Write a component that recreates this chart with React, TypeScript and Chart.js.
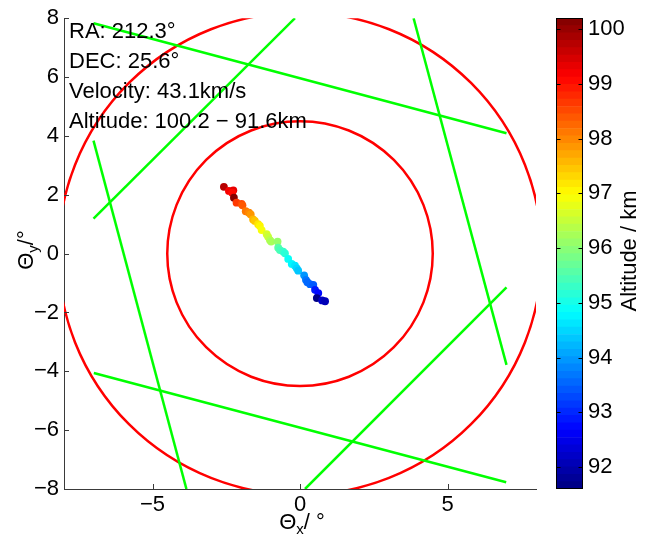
import React, { useEffect, useRef } from 'react';
import { Chart, registerables } from 'chart.js';
Chart.register(...registerables);

// ---- data ----
const axisMin = -8;
const axisMax = 8;
const xTicks = [-5, 0, 5];
const yTicks = [-8, -6, -4, -2, 0, 2, 4, 6, 8];
const cbMin = 91.6;
const cbMax = 100.2;
const cbTicks = [92, 93, 94, 95, 96, 97, 98, 99, 100];
const circleRadii = [4.5, 8.2];
const segX1 = [-7.0, -7.0, -7.0, -6.99, 0.17, 3.85];
const segY1 = [7.83, 1.19, 3.84, -4.06, -8.0, 8.0];
const segX2 = [7.0, -0.17, -3.85, 6.99, 7.0, 7.0];
const segY2 = [4.09, 8.0, -8.0, -7.77, -1.15, -3.78];
const meteorX = [-2.58, -2.41, -2.26, -2.3, -2.24, -2.15, -1.98, -1.95, -1.84, -1.73, -1.67, -1.59, -1.53, -1.42, -1.36, -1.3, -1.13, -1.08, -1.02, -0.98, -0.76, -0.74, -0.68, -0.57, -0.51, -0.4, -0.28, -0.17, -0.11, -0.06, 0.14, 0.2, 0.25, 0.34, 0.45, 0.51, 0.62, 0.57, 0.75, 0.85];
const meteorY = [2.27, 2.13, 2.15, 2.07, 1.9, 1.73, 1.69, 1.64, 1.44, 1.39, 1.33, 1.16, 1.11, 1.0, 0.94, 0.8, 0.66, 0.57, 0.46, 0.41, 0.41, 0.2, 0.12, 0.07, 0.01, -0.18, -0.35, -0.41, -0.5, -0.58, -0.74, -0.89, -0.97, -1.04, -1.06, -1.23, -1.34, -1.51, -1.59, -1.62];
const meteorAlt = [99.7, 99.2, 99.3, 99.1, 100.2, 98.6, 98.5, 98.4, 98.1, 98.0, 97.9, 97.6, 97.5, 97.2, 97.1, 96.9, 96.6, 96.5, 96.4, 96.3, 96.1, 95.5, 95.4, 95.3, 95.2, 94.9, 94.7, 94.6, 94.5, 94.4, 93.9, 93.7, 93.6, 93.5, 93.4, 92.9, 92.7, 91.6, 92.2, 92.1];
const infoLines = ['RA: 212.3°', 'DEC: 25.6°', 'Velocity: 43.1km/s', 'Altitude: 100.2 − 91.6km'];
const cbTitle = 'Altitude / km';
const nBands = 64;

// ---- styles ----
const FONT = '"Liberation Sans", Arial, Helvetica, sans-serif';
const FS = 22;
const AXIS_COLOR = '#3a3a3a';
const LW = 2.5;

const clamp = (v: number) => Math.max(0, Math.min(1, v));
function jet(t: number) {
  const r = clamp(1.5 - Math.abs(4 * t - 3));
  const g = clamp(1.5 - Math.abs(4 * t - 2));
  const b = clamp(1.5 - Math.abs(4 * t - 1));
  return `rgb(${Math.round(r * 255)},${Math.round(g * 255)},${Math.round(b * 255)})`;
}
function bandIndex(v: number) {
  return Math.max(0, Math.min(nBands - 1, Math.floor(((v - cbMin) / (cbMax - cbMin)) * nBands)));
}
function bandColor(i: number) {
  return jet((i + 0.5) / nBands);
}
const fmt = (v: number) => String(v).replace('-', '\u2212');

const mainPlugin = {
  id: 'mainDecor',
  beforeDatasetsDraw(chart: any) {
    const { ctx, chartArea } = chart;
    const xs = chart.scales.x;
    const ys = chart.scales.y;
    const cx = xs.getPixelForValue(0);
    const cy = ys.getPixelForValue(0);
    ctx.save();
    ctx.beginPath();
    ctx.rect(chartArea.left, chartArea.top, chartArea.right - chartArea.left, chartArea.bottom - chartArea.top);
    ctx.clip();
    ctx.strokeStyle = '#ff0000';
    ctx.lineWidth = LW;
    for (const r of circleRadii) {
      const rx = xs.getPixelForValue(r) - cx;
      const ry = cy - ys.getPixelForValue(r);
      ctx.beginPath();
      ctx.ellipse(cx, cy, rx, ry, 0, 0, Math.PI * 2);
      ctx.stroke();
    }
    ctx.restore();
  },
  afterDraw(chart: any) {
    const { ctx, chartArea } = chart;
    const xs = chart.scales.x;
    const ys = chart.scales.y;
    ctx.save();
    // inward ticks
    ctx.strokeStyle = AXIS_COLOR;
    ctx.lineWidth = 1;
    ctx.beginPath();
    for (const v of xTicks) {
      const px = Math.round(xs.getPixelForValue(v)) + 0.5;
      ctx.moveTo(px, chartArea.bottom);
      ctx.lineTo(px, chartArea.bottom - 5);
    }
    for (const v of yTicks) {
      const py = Math.round(ys.getPixelForValue(v)) + 0.5;
      ctx.moveTo(chartArea.left, py);
      ctx.lineTo(chartArea.left + 5, py);
    }
    ctx.stroke();
    // annotation
    ctx.fillStyle = '#000';
    ctx.font = `${FS}px ${FONT}`;
    ctx.textBaseline = 'alphabetic';
    ctx.textAlign = 'left';
    infoLines.forEach((s, i) => ctx.fillText(s, 69, 38 + i * 30));
    const big = `${FS}px ${FONT}`;
    const small = `15px ${FONT}`;
    const drawTitle = (sub: string, tail: string) => {
      ctx.font = big;
      const w1 = ctx.measureText('\u0398').width;
      const w3 = ctx.measureText(tail).width;
      ctx.font = small;
      const w2 = ctx.measureText(sub).width;
      const total = w1 + w2 + w3;
      let x = -total / 2;
      ctx.font = big;
      ctx.fillText('\u0398', x, 0);
      x += w1;
      ctx.font = small;
      ctx.fillText(sub, x, 5);
      x += w2;
      ctx.font = big;
      ctx.fillText(tail, x, 0);
    };
    ctx.save();
    ctx.translate(302, 529);
    drawTitle('x', '/ °');
    ctx.restore();
    ctx.save();
    ctx.translate(33, 250);
    ctx.rotate(-Math.PI / 2);
    drawTitle('y', '/°');
    ctx.restore();
    ctx.restore();
  },
};

const cbPlugin = {
  id: 'cbDecor',
  afterDraw(chart: any) {
    const { ctx, chartArea } = chart;
    const ys = chart.scales.y;
    ctx.save();
    ctx.strokeStyle = '#000';
    ctx.lineWidth = 1;
    const l = Math.round(chartArea.left) + 0.5;
    const r = Math.round(chartArea.right) - 0.5;
    const t = Math.round(chartArea.top) + 0.5;
    const b = Math.round(chartArea.bottom) - 0.5;
    ctx.strokeRect(l, t, r - l, b - t);
    ctx.beginPath();
    for (const v of cbTicks) {
      const py = Math.round(ys.getPixelForValue(v)) + 0.5;
      ctx.moveTo(l, py);
      ctx.lineTo(l + 4, py);
      ctx.moveTo(r, py);
      ctx.lineTo(r - 4, py);
    }
    ctx.stroke();
    ctx.fillStyle = '#000';
    ctx.font = `${FS}px ${FONT}`;
    ctx.textAlign = 'center';
    ctx.textBaseline = 'middle';
    ctx.translate(90, 251);
    ctx.rotate(-Math.PI / 2);
    ctx.fillText(cbTitle, 0, 0);
    ctx.restore();
  },
};

export default function App() {
  const mainRef = useRef<HTMLCanvasElement | null>(null);
  const cbRef = useRef<HTMLCanvasElement | null>(null);

  useEffect(() => {
    Chart.defaults.color = '#000';
    Chart.defaults.font.family = FONT;
    Chart.defaults.font.size = FS;

    const segDatasets = segX1.map((_, i) => ({
      type: 'line' as const,
      data: [
        { x: segX1[i], y: segY1[i] },
        { x: segX2[i], y: segY2[i] },
      ],
      borderColor: '#00ff00',
      borderWidth: LW,
      pointRadius: 0,
      showLine: true,
      fill: false,
    }));
    const meteorDataset = {
      type: 'scatter' as const,
      data: meteorX.map((x, i) => ({ x, y: meteorY[i] })),
      pointBackgroundColor: meteorAlt.map((a) => bandColor(bandIndex(a))),
      pointBorderWidth: 0,
      pointRadius: 3.9,
      showLine: false,
    };

    const main = new Chart(mainRef.current!, {
      type: 'scatter',
      data: { datasets: [...segDatasets, meteorDataset] as any },
      options: {
        responsive: false,
        animation: false,
        events: [],
        layout: { padding: { left: 0, top: 15, right: 117, bottom: 0 }, autoPadding: false } as any,
        plugins: { legend: { display: false }, tooltip: { enabled: false } },
        scales: {
          x: {
            type: 'linear',
            min: axisMin,
            max: axisMax,
            afterBuildTicks: (s: any) => { s.ticks = xTicks.map((v) => ({ value: v })); },
            afterFit: (s: any) => { s.height = 48; },
            ticks: { padding: 3, font: { size: FS, family: FONT }, color: '#000', callback: (v: any) => fmt(v) },
            grid: { display: true, drawOnChartArea: false, drawTicks: false },
            border: { display: true, color: AXIS_COLOR, width: 1 },
          },
          y: {
            type: 'linear',
            min: axisMin,
            max: axisMax,
            afterBuildTicks: (s: any) => { s.ticks = yTicks.map((v) => ({ value: v })); },
            afterFit: (s: any) => { s.width = 64; },
            ticks: { padding: 5, font: { size: FS, family: FONT }, color: '#000', callback: (v: any) => fmt(v) },
            grid: { display: true, drawOnChartArea: false, drawTicks: false },
            border: { display: true, color: AXIS_COLOR, width: 1 },
          },
        },
      },
      plugins: [mainPlugin],
    });

    const bands = Array.from({ length: nBands }, (_, i) => i);
    const step = (cbMax - cbMin) / nBands;
    const cb = new Chart(cbRef.current!, {
      type: 'bar',
      data: {
        labels: ['cb'],
        datasets: bands.map((i) => ({
          data: [[cbMin + i * step, cbMin + (i + 1) * step]] as any,
          backgroundColor: bandColor(i),
          borderWidth: 0,
          grouped: false,
          barPercentage: 1,
          categoryPercentage: 1,
        })) as any,
      },
      options: {
        responsive: false,
        animation: false,
        events: [],
        layout: { padding: { left: 16, top: 15, right: 0, bottom: 48 }, autoPadding: false } as any,
        plugins: { legend: { display: false }, tooltip: { enabled: false } },
        scales: {
          x: { display: false },
          y: {
            type: 'linear',
            position: 'right',
            min: cbMin,
            max: cbMax,
            afterBuildTicks: (s: any) => { s.ticks = cbTicks.map((v) => ({ value: v })); },
            afterFit: (s: any) => { s.width = 70; },
            ticks: { padding: 5, font: { size: FS, family: FONT }, color: '#000' },
            grid: { display: true, drawOnChartArea: false, drawTicks: false },
            border: { display: false },
          },
        },
      },
      plugins: [cbPlugin],
    });

    return () => {
      main.destroy();
      cb.destroy();
    };
  }, []);

  return (
    <div style={{ position: 'absolute', left: 0, top: 0, width: 653, height: 537, background: '#fff' }}>
      <canvas ref={mainRef} width={653} height={537} style={{ position: 'absolute', left: 0, top: 0 }} />
      <canvas ref={cbRef} width={113} height={537} style={{ position: 'absolute', left: 540, top: 0 }} />
    </div>
  );
}
